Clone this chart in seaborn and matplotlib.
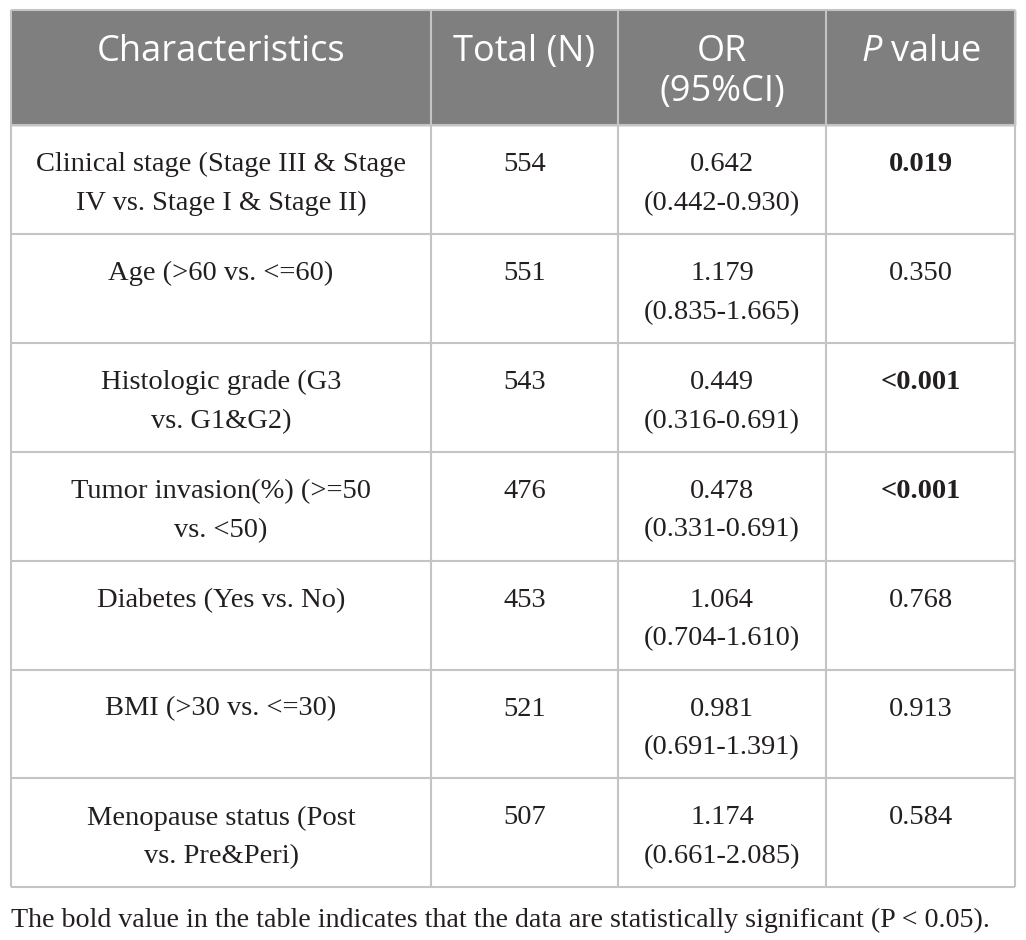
import numpy as np
import matplotlib.pyplot as plt
import seaborn as sns

# table content
headers = ["Characteristics", "Total (N)", "OR\n(95%CI)", "$\\mathit{P}$ value"]
characteristics = [
    "Clinical stage (Stage III & Stage\nIV vs. Stage I & Stage II)",
    "Age (>60 vs. <=60)",
    "Histologic grade (G3\nvs. G1&G2)",
    "Tumor invasion(%) (>=50\nvs. <50)",
    "Diabetes (Yes vs. No)",
    "BMI (>30 vs. <=30)",
    "Menopause status (Post\nvs. Pre&Peri)",
]
total_n = [554, 551, 543, 476, 453, 521, 507]
odds_ratio = ["0.642", "1.179", "0.449", "0.478", "1.064", "0.981", "1.174"]
ci = ["(0.442-0.930)", "(0.835-1.665)", "(0.316-0.691)", "(0.331-0.691)",
      "(0.704-1.610)", "(0.691-1.391)", "(0.661-2.085)"]
p_value = ["0.019", "0.350", "<0.001", "<0.001", "0.768", "0.913", "0.584"]
significant = [True, False, True, True, False, False, False]
footnote = "The bold value in the table indicates that the data are statistically significant (P < 0.05)."

sns.set_theme(style="white")
plt.rcParams["mathtext.fontset"] = "custom"
plt.rcParams["mathtext.rm"] = "Open Sans"
plt.rcParams["mathtext.it"] = "Open Sans:italic"

W, H = 1026, 940
fig = plt.figure(figsize=(W / 100, H / 100), dpi=100)
ax = fig.add_axes([0, 0, 1, 1])
ax.set_xlim(0, W)
ax.set_ylim(H, 0)
ax.axis("off")

col_edges = np.array([11, 431, 618, 826, 1015])
header_top, header_bot = 10, 125
row_h = 108.9
row_edges = header_bot + row_h * np.arange(len(characteristics) + 1)
grid_col = "#c4c4c4"
txt_col = "#231f20"
serif = "Liberation Serif"

# header
ax.fill_between([col_edges[0], col_edges[-1]], header_top, header_bot, color="#7f7f7f", zorder=0)
for i, h in enumerate(headers):
    cx = (col_edges[i] + col_edges[i + 1]) / 2
    ax.text(cx, header_top + 24, h, ha="center", va="top", color="white",
            fontsize=26, family="Open Sans", linespacing=1.15)

# grid lines
ax.vlines(col_edges, header_top, row_edges[-1], color=grid_col, lw=1.5, zorder=1)
ax.hlines(row_edges, col_edges[0], col_edges[-1], color=grid_col, lw=1.5, zorder=1)
ax.hlines(header_top, col_edges[0], col_edges[-1], color=grid_col, lw=1.5, zorder=1)

# body
for r in range(len(characteristics)):
    top = row_edges[r] + 27
    cells = [characteristics[r], str(total_n[r]), odds_ratio[r] + "\n" + ci[r], p_value[r]]
    for c, val in enumerate(cells):
        cx = (col_edges[c] + col_edges[c + 1]) / 2
        weight = "bold" if (c == 3 and significant[r]) else "normal"
        ax.text(cx, top, val, ha="center", va="top", color=txt_col, fontsize=20.5,
                family=serif, weight=weight, linespacing=1.73)

ax.text(col_edges[0], row_edges[-1] + 33, footnote, ha="left", va="center",
        color=txt_col, fontsize=20.2, family=serif)

fig.savefig("out.png", dpi=100)
